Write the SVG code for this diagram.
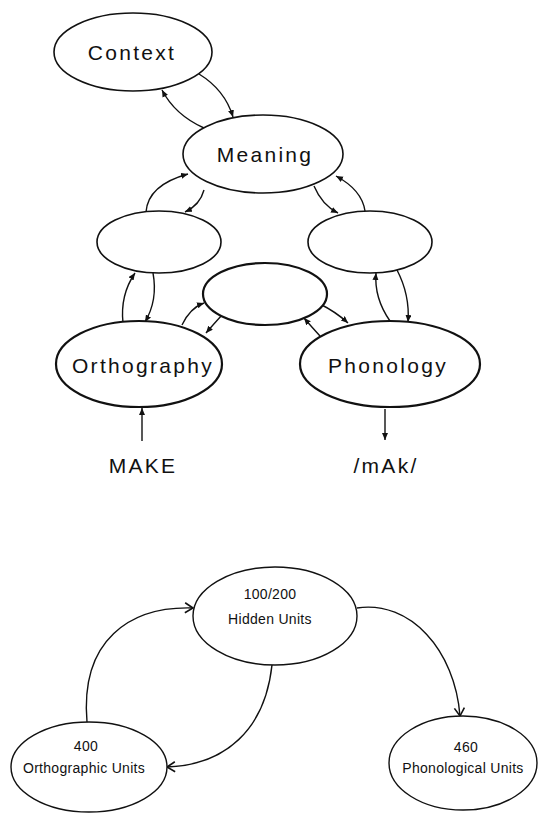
<svg xmlns="http://www.w3.org/2000/svg" width="539" height="813" viewBox="0 0 539 813">
<style>
.n{fill:#fff;stroke:#111;stroke-width:1.6}
.nb{fill:#fff;stroke:#111;stroke-width:2.2}
.nl{fill:#fff;stroke:#111;stroke-width:1.4}
.t{font-family:"Liberation Sans",Arial,sans-serif;font-size:21px;letter-spacing:2.3px;fill:#111;text-anchor:middle}
.s{font-family:"Liberation Sans",Arial,sans-serif;font-size:14px;letter-spacing:0.3px;fill:#111;text-anchor:middle}
.c{fill:none;stroke:#111;stroke-width:1.4;marker-end:url(#a)}
.cl{fill:none;stroke:#111;stroke-width:1.4;marker-end:url(#v)}
</style>
<defs>
<marker id="a" markerUnits="userSpaceOnUse" markerWidth="10" markerHeight="8" refX="7" refY="3" orient="auto">
<path d="M0,0 L7,3 L0,6 Z" fill="#111"/>
</marker>
<marker id="v" markerUnits="userSpaceOnUse" markerWidth="14" markerHeight="14" refX="9" refY="6" orient="auto">
<path d="M1,1 L9,6 L1,11" fill="none" stroke="#111" stroke-width="1.6"/>
</marker>
</defs>
<g id="connectors">
<path class="c" d="M199,74 Q225,90 233,117"/>
<path class="c" d="M204,128 Q175,115 162,90"/>
<path class="c" d="M146,212 Q148,185 188,174"/>
<path class="c" d="M204,190 Q200,205 185,212"/>
<path class="c" d="M314,186 Q322,205 338,213"/>
<path class="c" d="M365,211 Q362,190 336,176"/>
<path class="c" d="M153,273 Q158,300 145,322"/>
<path class="c" d="M123,323 Q120,295 135,273"/>
<path class="c" d="M182,325 Q190,308 204,303"/>
<path class="c" d="M222,315 Q212,326 206,333"/>
<path class="c" d="M320,304 Q336,312 348,323"/>
<path class="c" d="M320,336 Q310,325 304,318"/>
<path class="c" d="M397,270 Q410,295 408,322"/>
<path class="c" d="M390,321 Q374,298 376,273"/>
<path class="c" d="M142,441 L142,408"/>
<path class="c" d="M385,409 L385,440"/>
<path class="cl" d="M87,722 C80,640 130,606 193,608"/>
<path class="cl" d="M272,665 C265,730 225,765 167,767"/>
<path class="cl" d="M357,608 C410,600 455,650 460,716"/>
</g>
<g id="context"><ellipse class="n" cx="133" cy="52" rx="79" ry="39"/><text class="t" x="132" y="60">Context</text></g>
<g id="meaning"><ellipse class="n" cx="263" cy="154" rx="80" ry="39"/><text class="t" x="265" y="162">Meaning</text></g>
<g id="hidden-left"><ellipse class="n" cx="159" cy="242" rx="62" ry="31"/></g>
<g id="hidden-right"><ellipse class="n" cx="370" cy="242" rx="62" ry="31"/></g>
<g id="hidden-middle"><ellipse class="nb" cx="265" cy="294" rx="62" ry="31"/></g>
<g id="orthography"><ellipse class="nb" cx="139" cy="364" rx="83" ry="43"/><text class="t" x="143" y="373">Orthography</text></g>
<g id="phonology"><ellipse class="nb" cx="390" cy="364" rx="90" ry="43"/><text class="t" x="388" y="373">Phonology</text></g>
<g id="make"><text class="t" x="143" y="473">MAKE</text></g>
<g id="mak"><text class="t" x="386" y="473">/mAk/</text></g>
<g id="hidden-units"><ellipse class="nl" cx="275" cy="616" rx="82" ry="49"/><text class="s" x="270" y="599">100/200</text><text class="s" x="270" y="624">Hidden Units</text></g>
<g id="orthographic-units"><ellipse class="nl" cx="89" cy="767" rx="78" ry="45"/><text class="s" x="86" y="751">400</text><text class="s" x="84" y="773">Orthographic Units</text></g>
<g id="phonological-units"><ellipse class="nl" cx="463" cy="763" rx="74" ry="47"/><text class="s" x="466" y="752">460</text><text class="s" x="463" y="773">Phonological Units</text></g>
</svg>
